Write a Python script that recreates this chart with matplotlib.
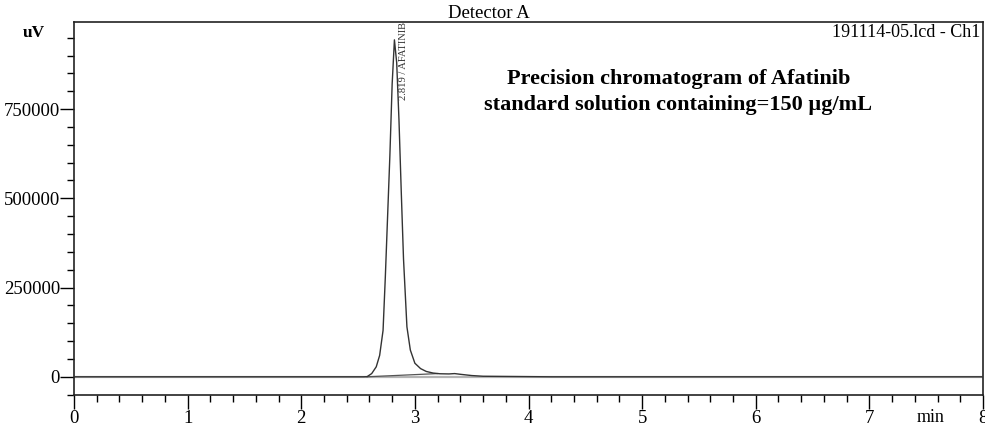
import matplotlib
matplotlib.use('Agg')
import matplotlib.pyplot as plt
from matplotlib.ticker import MultipleLocator

# chromatogram trace (min, uV)
time_min = [0.0, 2.55, 2.58, 2.62, 2.66, 2.69, 2.72, 2.74, 2.76, 2.78, 2.80, 2.82,
            2.84, 2.86, 2.88, 2.90, 2.93, 2.96, 3.00, 3.05, 3.10, 3.16, 3.22, 3.30,
            3.35, 3.40, 3.50, 3.60, 4.20, 8.0]
signal_uv = [0, 0, 500, 9000, 28000, 60000, 130000, 280000, 450000, 620000, 820000, 944000,
             880000, 720000, 520000, 330000, 140000, 75000, 38000, 23000, 15000, 10500, 8500, 8000,
             9000, 7000, 3500, 1500, 0, 0]

# integration baseline under the peak
base_t = [2.58, 3.20]
base_uv = [0, 9000]

peak_rt = 2.819
peak_name = 'AFATINIB'

x_ticks = [0, 1, 2, 3, 4, 5, 6, 7, 8]
y_ticks = [0, 250000, 500000, 750000]

plt.rcParams['font.family'] = ['Liberation Serif', 'DejaVu Serif']

fig = plt.figure(figsize=(9.85, 4.26), dpi=100)
ax = fig.add_axes([74 / 985, 31 / 426, 909 / 985, 373 / 426])

ax.axhline(0, color='#b4b4b4', lw=1.6, zorder=1)
ax.plot(time_min, signal_uv, color='#333333', lw=1.0, zorder=3)
ax.plot(base_t, base_uv, color='#555555', lw=0.9, zorder=2)

ax.set_xlim(0, 8)
ax.set_ylim(-51000, 994000)
ax.set_xticks(x_ticks)
ax.set_yticks(y_ticks)
ax.xaxis.set_minor_locator(MultipleLocator(0.2))
ax.yaxis.set_minor_locator(MultipleLocator(50000))
ax.tick_params(which='major', length=10, width=1, labelsize=13.5)
ax.tick_params(axis='x', which='major', pad=1)
ax.tick_params(axis='y', which='major', pad=0)
ax.tick_params(which='minor', length=5, width=1)
for s in ax.spines.values():
    s.set_linewidth(1.2)
    s.set_color('#222222')

# peak label, standing to the right of the apex
ax.text(2.90, 993000, f'{peak_rt} / {peak_name}', rotation=90,
        ha='center', va='top', fontsize=7.6, color='#333333')

ax.text(0.997, 0.995, '191114-05.lcd - Ch1', transform=ax.transAxes,
        ha='right', va='top', fontsize=13)
ax.text(0.665, 0.812, 'Precision chromatogram of Afatinib\nstandard solution containing=150 \u00b5g/mL',
        transform=ax.transAxes, ha='center', va='center', fontsize=16,
        fontweight='bold', linespacing=1.42)

fig.text(34 / 985, 1 - 33 / 426, 'uV', ha='center', va='center', fontsize=12.5,
         fontweight='bold')
fig.text(489 / 985, 1 - 13 / 426, 'Detector A', ha='center', va='center', fontsize=13.5)
fig.text(931 / 985, 1 - 417 / 426, 'min', ha='center', va='center', fontsize=13)

fig.savefig('out.png', dpi=100)
